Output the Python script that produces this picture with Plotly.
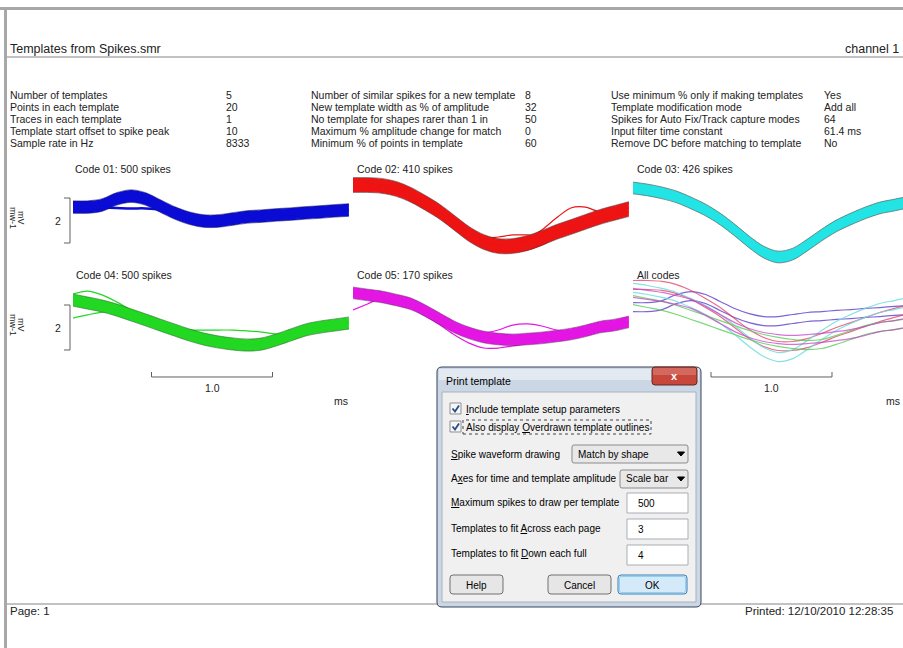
import plotly.graph_objects as go

W, H = 903, 648
FONT = "Liberation Sans, Arial, sans-serif"

# ---------------- data ----------------
time_ms = [0.00, 0.12, 0.24, 0.36, 0.48, 0.60, 0.72, 0.84, 0.96, 1.08,
           1.20, 1.32, 1.44, 1.56, 1.68, 1.80, 1.92, 2.04, 2.16, 2.28]

panel_titles = ["Code 01: 500 spikes", "Code 02: 410 spikes", "Code 03: 426 spikes",
                "Code 04: 500 spikes", "Code 05: 170 spikes", "All codes"]

# template means (mV)
code01_mean = [0.13, 0.13, 0.22, 0.49, 0.62, 0.49, 0.18, -0.13, -0.36, -0.49,
               -0.49, -0.40, -0.31, -0.27, -0.22, -0.18, -0.13, -0.09, -0.04, 0.00]
code02_mean = [1.11, 1.11, 1.07, 0.93, 0.67, 0.31, -0.09, -0.58, -1.07, -1.42,
               -1.60, -1.60, -1.47, -1.24, -0.98, -0.76, -0.53, -0.31, -0.13, 0.04]
code03_mean = [0.98, 0.89, 0.76, 0.58, 0.31, 0.00, -0.40, -0.89, -1.42, -1.87,
               -2.09, -1.96, -1.56, -1.11, -0.71, -0.40, -0.13, 0.09, 0.22, 0.36]
code04_mean = [0.44, 0.31, 0.18, 0.00, -0.22, -0.44, -0.67, -0.89, -1.11, -1.29,
               -1.42, -1.51, -1.56, -1.51, -1.33, -1.11, -0.89, -0.76, -0.67, -0.58]
code05_mean = [0.76, 0.67, 0.58, 0.44, 0.27, -0.04, -0.40, -0.76, -1.02, -1.20,
               -1.29, -1.33, -1.29, -1.24, -1.16, -1.07, -0.93, -0.76, -0.67, -0.53]

# half spread of the overdrawn spikes around each template (mV)
code_spread = [0.24, 0.29, 0.22, 0.23, 0.22]

# individual outlying spikes (mV)
code01_outliers = [
    [0.13, 0.13, 0.11, 0.09, 0.07, 0.07, 0.02, -0.13, -0.36, -0.49,
     -0.49, -0.40, -0.31, -0.27, -0.22, -0.18, -0.13, -0.09, -0.04, 0.00],
]
code02_outliers = [
    [1.07, 1.07, 1.02, 0.89, 0.62, 0.27, -0.13, -0.62, -1.02, -1.24,
     -1.20, -1.11, -1.11, -1.16, -0.93, -0.71, -0.49, -0.27, -0.09, 0.09],
    [1.16, 1.16, 1.11, 0.98, 0.71, 0.36, -0.04, -0.53, -1.02, -1.38,
     -1.56, -1.51, -1.29, -0.89, -0.36, 0.09, 0.13, -0.09, -0.09, 0.09],
    [1.02, 0.98, 0.89, 0.71, 0.44, 0.09, -0.31, -0.80, -1.29, -1.64,
     -1.82, -1.87, -1.78, -1.56, -1.24, -0.93, -0.67, -0.44, -0.27, -0.09],
]
code03_outliers = []
code04_outliers = [
    [-0.36, -0.22, -0.09, -0.09, -0.22, -0.44, -0.67, -0.89, -1.11, -1.29,
     -1.42, -1.51, -1.56, -1.51, -1.33, -1.11, -0.89, -0.76, -0.67, -0.58],
    [0.44, 0.31, 0.18, 0.00, -0.22, -0.44, -0.67, -0.84, -0.89, -0.89,
     -0.89, -0.89, -0.93, -0.98, -1.07, -1.02, -0.84, -0.67, -0.53, -0.49],
    [0.71, 0.84, 0.67, 0.36, 0.00, -0.31, -0.67, -0.89, -1.11, -1.29,
     -1.42, -1.51, -1.56, -1.51, -1.33, -1.11, -0.89, -0.76, -0.67, -0.58],
]
code05_outliers = [
    [0.00, 0.27, 0.53, 0.44, 0.27, -0.04, -0.40, -0.76, -1.02, -1.20,
     -1.29, -1.33, -1.29, -1.24, -1.16, -1.07, -0.93, -0.76, -0.67, -0.53],
    [0.76, 0.67, 0.58, 0.44, 0.27, -0.04, -0.40, -0.76, -0.98, -1.02,
     -0.89, -0.67, -0.62, -0.71, -0.89, -0.98, -0.89, -0.76, -0.67, -0.53],
    [0.71, 0.62, 0.49, 0.31, 0.09, -0.27, -0.67, -1.11, -1.47, -1.69,
     -1.69, -1.60, -1.47, -1.38, -1.29, -1.20, -1.07, -0.89, -0.76, -0.62],
]

code_means = [code01_mean, code02_mean, code03_mean, code04_mean, code05_mean]
code_outliers = [code01_outliers, code02_outliers, code03_outliers,
                 code04_outliers, code05_outliers]
code_colors = ["#0b0bd6", "#ee1414", "#22e4e4", "#22d822", "#e416e4"]
code_outline_colors = ["rgba(20,20,90,0.6)", "rgba(70,60,60,0.65)", "rgba(70,80,80,0.7)",
                       "rgba(20,90,20,0.6)", "rgba(90,30,90,0.55)"]
allcodes_colors = ["rgba(80,50,200,0.75)", "rgba(225,60,95,0.75)", "rgba(110,220,225,0.85)",
                   "rgba(90,205,90,0.8)", "rgba(200,70,200,0.75)"]

# setup parameter table
param_labels_1 = ["Number of templates", "Points in each template", "Traces in each template",
                  "Template start offset to spike peak", "Sample rate in Hz"]
param_values_1 = ["5", "20", "1", "10", "8333"]
param_labels_2 = ["Number of similar spikes for a new template", "New template width as % of amplitude",
                  "No template for shapes rarer than 1 in", "Maximum % amplitude change for match",
                  "Minimum % of points in template"]
param_values_2 = ["8", "32", "50", "0", "60"]
param_labels_3 = ["Use minimum % only if making templates", "Template modification mode",
                  "Spikes for Auto Fix/Track capture modes", "Input filter time constant",
                  "Remove DC before matching to template"]
param_values_3 = ["Yes", "Add all", "64", "61.4 ms", "No"]

scale_time_ms = 1.0
scale_amp_mv = 2

# ---------------- layout helpers ----------------
PX_PER_MS = 121.0
PX_PER_MV = 22.5


def X(x):
    return x / W


def Y(y):
    return 1 - y / H


# panel boxes in pixels: left, right, top, bottom, pixel row of 0 mV
panels = [
    (73, 349, 176, 280, 210),
    (353, 630, 176, 280, 210),
    (633, 903, 176, 280, 210),
    (73, 349, 276, 380, 310),
    (353, 630, 276, 380, 310),
    (633, 903, 276, 380, 310),
]

fig = go.Figure()
axes_layout = {}
for k, (l, r, t, b, z) in enumerate(panels, start=1):
    sx = "" if k == 1 else str(k)
    axes_layout["xaxis" + sx] = dict(domain=[X(l), X(r)], range=[0, (r - l) / PX_PER_MS],
                                     visible=False, fixedrange=True, anchor="y" + sx)
    axes_layout["yaxis" + sx] = dict(domain=[Y(b), Y(t)],
                                     range=[(z - b) / PX_PER_MV, (z - t) / PX_PER_MV],
                                     visible=False, fixedrange=True, anchor="x" + sx)


def ax(k):
    s = "" if k == 1 else str(k)
    return "x" + s, "y" + s


def line(k, y, color, width, dash=None, fill=None, fillcolor=None):
    xa, ya = ax(k)
    fig.add_trace(go.Scatter(
        x=time_ms, y=y, mode="lines", xaxis=xa, yaxis=ya,
        line=dict(color=color, width=width, shape="spline", smoothing=0.9, dash=dash),
        fill=fill, fillcolor=fillcolor, hoverinfo="skip", showlegend=False))


# individual code panels
for i in range(5):
    k = i + 1
    mean = code_means[i]
    hw = code_spread[i]
    col = code_colors[i]
    lo = [m - hw for m in mean]
    up = [m + hw for m in mean]
    line(k, lo, col, 1.5)
    line(k, up, col, 1.5, fill="tonexty", fillcolor=col)
    for o in code_outliers[i]:
        line(k, o, col, 1.2 if i else 2.5)
    line(k, [m + hw + 0.04 for m in mean], code_outline_colors[i], 0.9)
    line(k, [m - hw - 0.04 for m in mean], code_outline_colors[i], 0.9)

# all codes panel: template outlines
for i in range(5):
    mean = code_means[i]
    for s in (-0.2, 0.2):
        line(6, [m + s for m in mean], allcodes_colors[i], 1.2)

# ---------------- shapes ----------------
shapes = []


def rect(x0, y0, x1, y1, fill=None, lc=None, lw=0, dash=None):
    shapes.append(dict(type="rect", xref="paper", yref="paper",
                       x0=X(x0), x1=X(x1), y0=Y(y1), y1=Y(y0),
                       fillcolor=fill if fill else "rgba(0,0,0,0)",
                       line=dict(color=lc if lc else "rgba(0,0,0,0)", width=lw, dash=dash),
                       layer="above"))


def path(pts, lc="#555", lw=1, fill=None, closed=False):
    d = "M " + " L ".join(f"{X(px):.5f},{Y(py):.5f}" for px, py in pts)
    if closed:
        d += " Z"
    shapes.append(dict(type="path", xref="paper", yref="paper", path=d,
                       fillcolor=fill if fill else "rgba(0,0,0,0)",
                       line=dict(color=lc, width=lw), layer="above"))


def rrect(x0, y0, x1, y1, r, fill, lc, lw=1):
    p = lambda a, b: f"{X(a):.5f},{Y(b):.5f}"
    d = (f"M {p(x0 + r, y0)} L {p(x1 - r, y0)} Q {p(x1, y0)} {p(x1, y0 + r)} "
         f"L {p(x1, y1 - r)} Q {p(x1, y1)} {p(x1 - r, y1)} L {p(x0 + r, y1)} "
         f"Q {p(x0, y1)} {p(x0, y1 - r)} L {p(x0, y0 + r)} Q {p(x0, y0)} {p(x0 + r, y0)} Z")
    shapes.append(dict(type="path", xref="paper", yref="paper", path=d,
                       fillcolor=fill, line=dict(color=lc, width=lw), layer="above"))


# page frame
rect(0, 7, 903, 10, fill="#a8a8a8")
rect(4, 7, 7, 648, fill="#a8a8a8")
rect(7, 56, 903, 58, fill="#c2c2c2")
rect(7, 603, 903, 605, fill="#c2c2c2")

# scale bars
amp_px = scale_amp_mv * PX_PER_MV
for top in (198, 305):
    path([(64, top), (70, top), (70, top + amp_px), (64, top + amp_px)], lc="#606060", lw=1)
time_px = scale_time_ms * PX_PER_MS
for x0 in (151.5, 711):
    path([(x0, 372), (x0, 377), (x0 + time_px, 377), (x0 + time_px, 372)], lc="#606060", lw=1)

# dialog
rrect(437, 367, 701, 607, 5, "#cbd7e5", "#36425a", 1)
rect(439, 369, 699, 380, fill="rgba(255,255,255,0.45)")
rect(442, 392, 696, 602, fill="#f0f0f0", lc="#a7b2c0", lw=1)
rrect(652, 367, 697, 385, 3, "#c8473b", "#5e2a26", 1)
rect(653, 368, 696, 375, fill="rgba(255,255,255,0.18)")
for cy in (403, 421):
    rect(450, cy, 461, cy + 11, fill="#f6f6f6", lc="#8e8f8f", lw=1)
    path([(452.5, cy + 5.5), (455, cy + 8.5), (459, cy + 2.5)], lc="#2b4a8c", lw=1.8)
rect(463, 420, 651, 434, lc="#444", lw=1, dash="dot")
rrect(572, 445, 688, 463, 2, "#e8e8e8", "#8b8b8b", 1)
path([(677.5, 452), (684.5, 452), (681, 456)], lc="#000", lw=1, fill="#000", closed=True)
rrect(620, 470, 688, 488, 2, "#e8e8e8", "#8b8b8b", 1)
path([(677.5, 477), (684.5, 477), (681, 481)], lc="#000", lw=1, fill="#000", closed=True)
for ty in (493, 519, 545):
    rect(627, ty, 688, ty + 20, fill="#ffffff", lc="#abadb3", lw=1)
rrect(450, 575, 503, 594, 3, "#e6e6e6", "#707070", 1)
rrect(548, 575, 611, 594, 3, "#e6e6e6", "#707070", 1)
rrect(618, 575, 687, 594, 3, "#d4eaf9", "#3c7fb1", 1)
rrect(619.5, 576.5, 685.5, 592.5, 2, "rgba(0,0,0,0)", "#8fd0f5", 1)

# ---------------- annotations ----------------
ann = []


def txt(x, y, s, size=10.5, anchor="left", color="#222", angle=0, family=FONT):
    ann.append(dict(x=X(x), y=Y(y), xref="paper", yref="paper", text=s, showarrow=False,
                    xanchor=anchor, yanchor="middle", textangle=angle,
                    font=dict(size=size, color=color, family=family)))


txt(8, 49, "Templates from Spikes.smr", size=12.5)
txt(901, 49, "channel 1", size=12.5, anchor="right")
row_y = [95, 107, 119, 131, 143]
for labels, values, lx, vx in ((param_labels_1, param_values_1, 8, 224),
                               (param_labels_2, param_values_2, 309, 523),
                               (param_labels_3, param_values_3, 609, 822)):
    for lab, val, yy in zip(labels, values, row_y):
        txt(lx, yy, lab)
        txt(vx, yy, val)

title_pos = [(73, 169), (355, 169), (635, 169), (74, 275), (355, 275), (635, 275)]
for (tx, ty), t in zip(title_pos, panel_titles):
    txt(tx, ty, t)

for cy in (221, 328):
    txt(58, cy, f"{scale_amp_mv}", anchor="center")
    txt(13, cy - 3, "mw-1", size=9, anchor="center", angle=90)
    txt(21, cy - 3, "mV", size=9, anchor="center", angle=90)
txt(151.5 + time_px / 2, 388, f"{scale_time_ms:.1f}", anchor="center")
txt(711 + time_px / 2, 388, f"{scale_time_ms:.1f}", anchor="center")
txt(341, 401, "ms", anchor="center")
txt(902, 401, "ms", anchor="right")

txt(8, 611, "Page: 1", size=11.5)
txt(743, 611, "Printed: 12/10/2010 12:28:35", size=11.5)

# dialog text
DF = 10
txt(444, 381, "Print template", size=10.5, color="#000")
txt(674.5, 375.5, "<b>x</b>", size=11, anchor="center", color="#ffffff")
txt(464, 409, "<u>I</u>nclude template setup parameters", size=DF, color="#000")
txt(464, 427, "Also display <u>O</u>verdrawn template outlines", size=DF, color="#000")
txt(449, 454, "<u>S</u>pike waveform drawing", size=DF, color="#000")
txt(576, 454, "Match by shape", size=DF, color="#000")
txt(449, 479, "A<u>x</u>es for time and template amplitude", size=DF, color="#000")
txt(624, 479, "Scale bar", size=DF, color="#000")
txt(449, 502, "<u>M</u>aximum spikes to draw per template", size=DF, color="#000")
txt(636, 503, "500", size=DF, color="#000")
txt(449, 528, "Templates to fit <u>A</u>cross each page", size=DF, color="#000")
txt(636, 529, "3", size=DF, color="#000")
txt(449, 553, "Templates to fit <u>D</u>own each full", size=DF, color="#000")
txt(636, 555, "4", size=DF, color="#000")
txt(476.5, 585, "Help", size=DF, anchor="center", color="#000")
txt(579.5, 585, "Cancel", size=DF, anchor="center", color="#000")
txt(652.5, 585, "OK", size=DF, anchor="center", color="#000")

fig.update_layout(
    width=W, height=H, margin=dict(l=0, r=0, t=0, b=0),
    paper_bgcolor="#ffffff", plot_bgcolor="rgba(0,0,0,0)",
    showlegend=False, shapes=shapes, annotations=ann,
    font=dict(family=FONT, size=10.5, color="#222"),
    **axes_layout,
)

fig.write_html("out.html", config={"displayModeBar": False},
               post_script="document.body.style.margin='0px';document.body.style.overflow='hidden';")
